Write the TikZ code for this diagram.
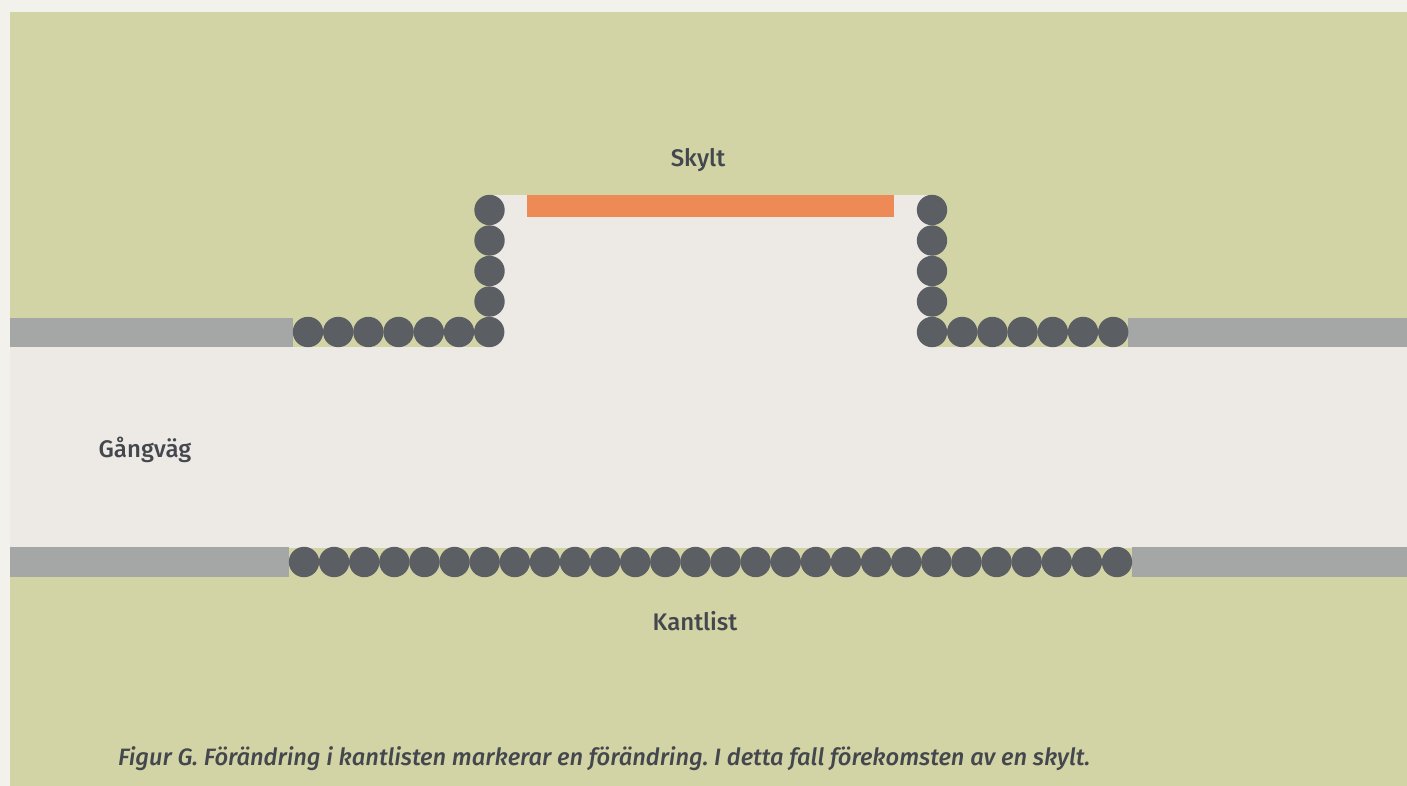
\documentclass[tikz,border=0pt]{standalone}
\usepackage{fontspec}
\setmainfont{Fira Sans}[UprightFont=* Medium, ItalicFont=* Medium Italic, BoldFont=* SemiBold]
\frenchspacing
\definecolor{outerbg}{HTML}{F3F1EB}
\definecolor{grass}{HTML}{D3D4A5}
\definecolor{walk}{HTML}{EDEAE5}
\definecolor{curbgray}{HTML}{A5A7A7}
\definecolor{stone}{HTML}{5B5E62}
\definecolor{sign}{HTML}{EE8A55}
\definecolor{txt}{HTML}{44474D}
\tikzset{
  stonestyle/.style={fill=stone},
  label/.style={text=txt, font=\fontsize{24}{28}\selectfont, inner sep=0pt},
  caption/.style={text=txt, font=\fontsize{23.7}{28}\selectfont\itshape, inner sep=0pt, anchor=west}
}
\begin{document}
\begin{tikzpicture}[x=1pt,y=-1pt]
\useasboundingbox (0,0) rectangle (1407,786);
\fill[outerbg] (0,0) rectangle (1407,786);
\fill[grass] (10,12) rectangle (1407,786);
% walkway with notch
\fill[walk] (10,347) rectangle (1407,548);
\fill[walk] (490,195) rectangle (932,348);
% grey curbs
\fill[curbgray] (10,318) rectangle (293,347);
\fill[curbgray] (1128,318) rectangle (1407,347);
\fill[curbgray] (10,547) rectangle (289,577);
\fill[curbgray] (1132,547) rectangle (1407,577);
% sign
\fill[sign] (527,195) rectangle (894,217);
% stones left
\foreach \i in {0,...,6} \fill[stonestyle] (308+30.2*\i,332) circle (15.2);
\foreach \j in {0,...,3} \fill[stonestyle] (489.5,210+30.5*\j) circle (15.2);
% stones right
\foreach \i in {0,...,6} \fill[stonestyle] (932+30.2*\i,332) circle (15.2);
\foreach \j in {0,...,3} \fill[stonestyle] (932,210+30.5*\j) circle (15.2);
% bottom row
\foreach \i in {0,...,27} \fill[stonestyle] (304+30.11*\i,562) circle (15.2);
% labels
\node[label] (skylt) at (698,160) {Skylt};
\node[label] (gang) at (145,450) {Gångväg};
\node[label] (kant) at (695,621) {Kantlist};
\node[caption] (cap) at (118,759) {Figur G. Förändring i kantlisten markerar en förändring. I detta fall förekomsten av en skylt.};
\end{tikzpicture}
\end{document}
